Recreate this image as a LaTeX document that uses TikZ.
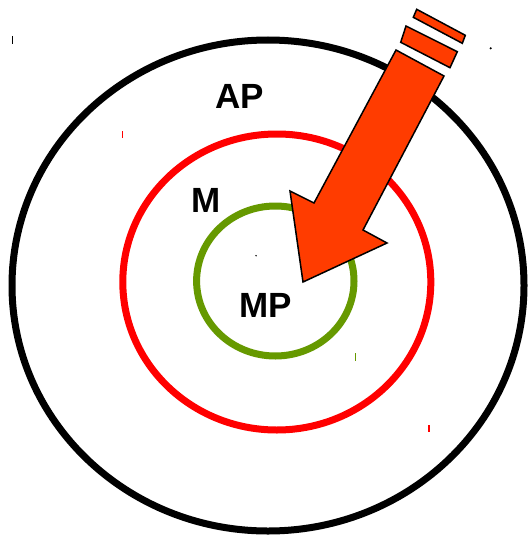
\documentclass[tikz,border=0pt]{standalone}
\usepackage{fontspec}
\setmainfont{Liberation Sans}
\usetikzlibrary{positioning}
\definecolor{ringred}{RGB}{255,0,0}
\definecolor{ringgreen}{RGB}{102,153,0}
\definecolor{arroworange}{RGB}{255,60,0}
\tikzset{
  ring/.style={line width=7pt},
  lbl/.style={font=\fontsize{35}{40}\selectfont\bfseries, inner sep=0pt},
  speck/.style={line width=1.2pt},
  arrowpart/.style={fill=arroworange, draw=black, line width=1.5pt, line join=miter}
}
\begin{document}
\begin{tikzpicture}[x=1pt,y=-1pt]
\useasboundingbox (0,0) rectangle (528,535);

% the three rings
\draw[ring,black] (268,285.5) ellipse (256 and 245.5);
\draw[ring,ringred] (276.8,282) ellipse (154 and 148);
\draw[ring,ringgreen] (275.3,281) ellipse (78.7 and 75);

% small specks left on the page
\draw[speck,black] (12.7,36) -- (12.7,44);
\draw[speck,ringred] (122.7,131) -- (122.7,138);
\draw[speck,ringgreen] (355.3,353) -- (355.3,361);
\draw[speck,ringred] (429,425) -- (429,432);
\fill (490.7,48.3) circle (1.2pt);
\fill (256,255.7) circle (0.8pt);

% the arrow
\draw[arrowpart] (303,282) -- (290,191) -- (314,203) -- (396,50) -- (444,76)
  -- (363,230) -- (387,243) -- cycle;
\draw[arrowpart] (400.7,42.3) -- (406,26) -- (457.3,51.7) -- (450,67.7) -- cycle;
\draw[arrowpart] (413.3,17.3) -- (416.7,9.3) -- (465.3,35.3) -- (462.3,43.3) -- cycle;

% labels
\node[lbl] (AP) at (240,96.5) {AP};
\node[lbl] (M) at (206,200) {M};
\node[lbl] (MP) at (265.5,305) {MP};
\end{tikzpicture}
\end{document}
